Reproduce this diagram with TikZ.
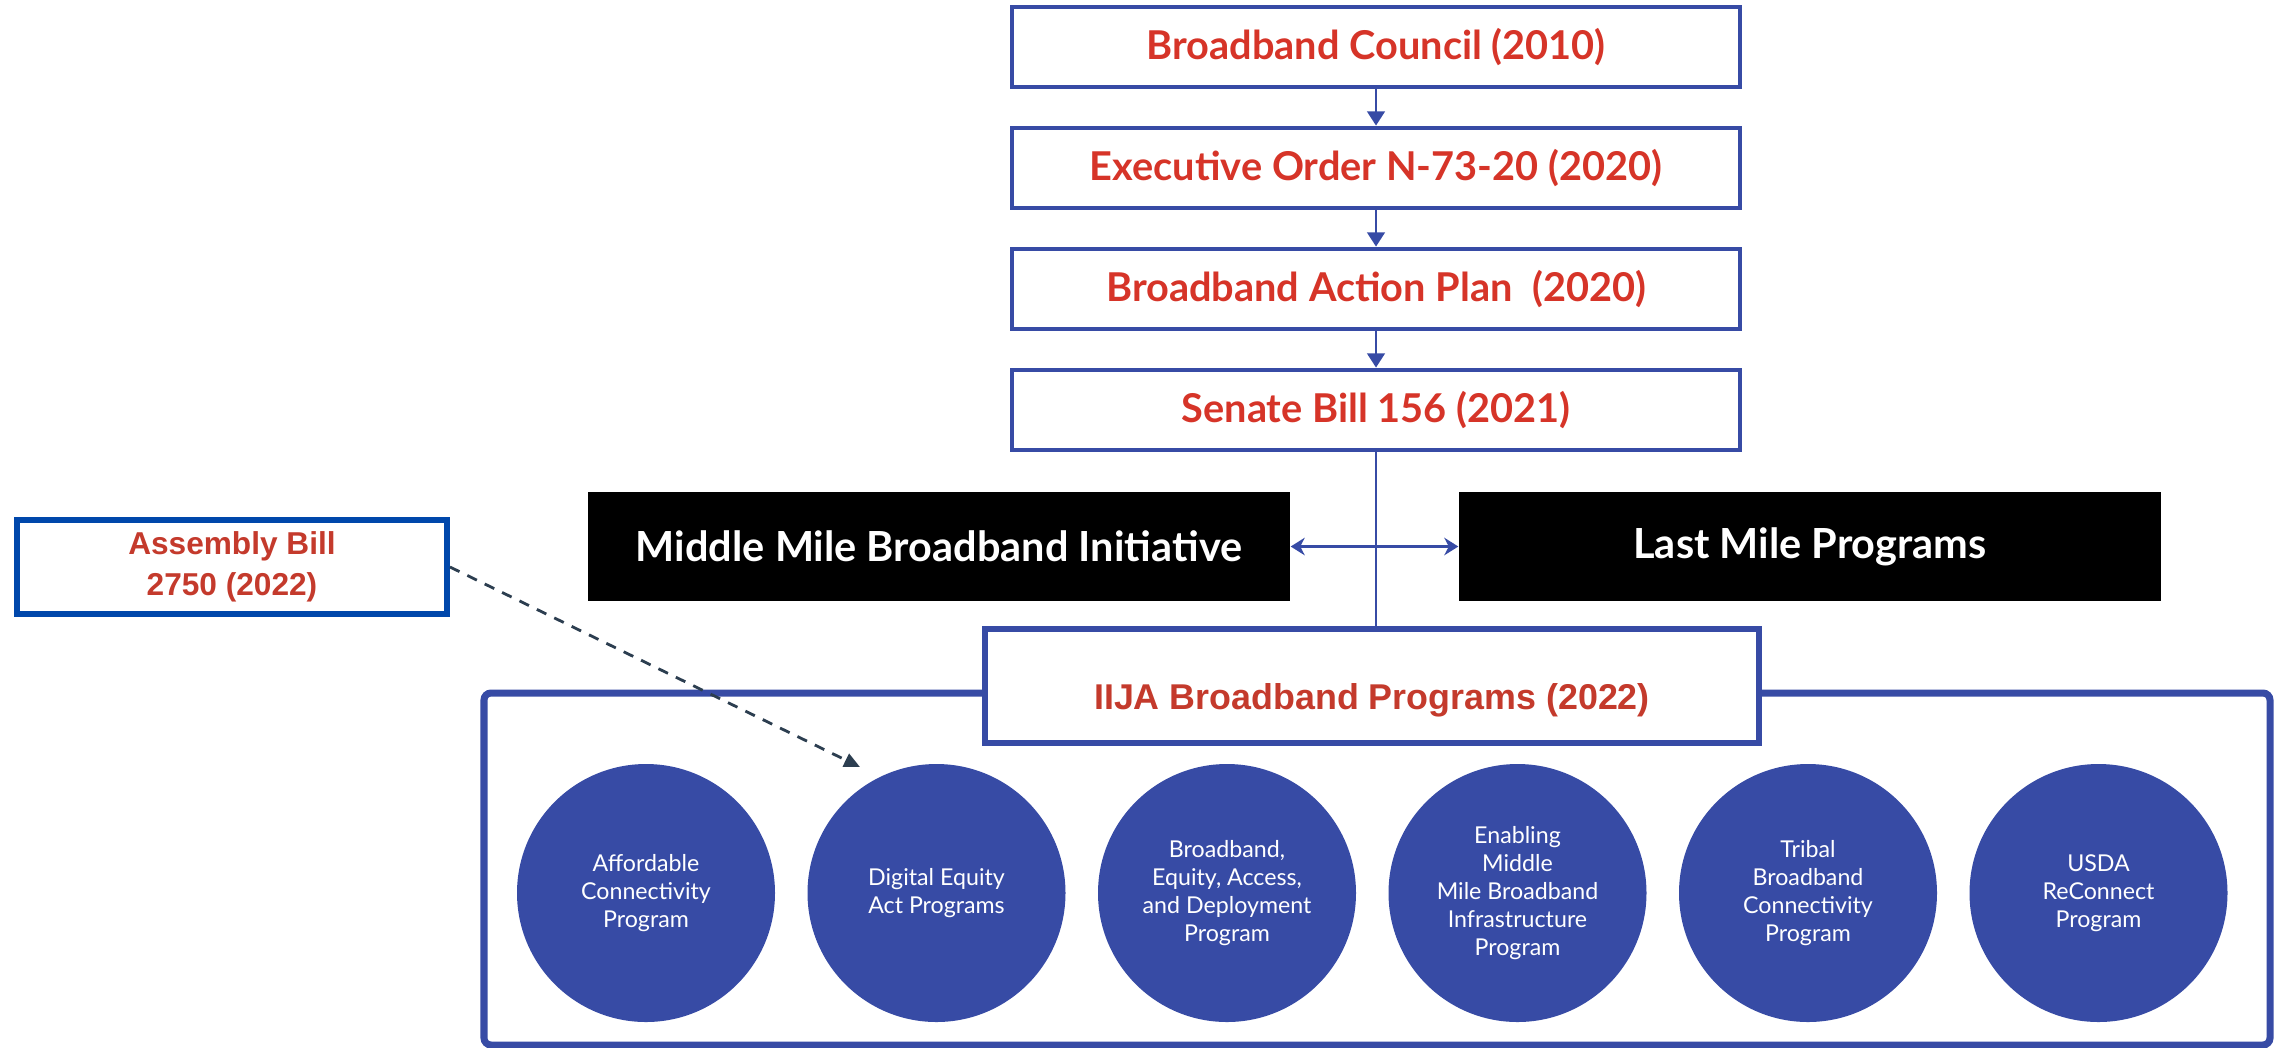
\documentclass[tikz,border=0pt]{standalone}
\usepackage{fontspec}
\setmainfont{Lato}
\newfontfamily\arialfont{Liberation Sans}
\usetikzlibrary{positioning}
\usetikzlibrary{arrows.meta,shapes}
\usetikzlibrary{calc}
\definecolor{bbblue}{RGB}{55,75,165}
\definecolor{bbred}{RGB}{214,52,40}
\definecolor{abred}{RGB}{196,58,44}
\definecolor{abblue}{RGB}{0,71,171}
\definecolor{slate}{RGB}{44,62,80}

\begin{document}
\begin{tikzpicture}[scale=1, auto, swap,
  stepbox/.style={draw=bbblue, line width=1.4pt, fill=white, minimum width=7.28cm, minimum height=0.8cm, inner sep=0pt, text=bbred, font=\bfseries\fontsize{11.3}{13}\selectfont},
  blackbox/.style={fill=black, minimum width=7.02cm, minimum height=1.09cm, inner sep=0pt, text=white, font=\bfseries\fontsize{11.8}{13}\selectfont},
  prog/.style={circle, fill=bbblue, minimum size=2.58cm, inner sep=0pt, text=white, align=center, font=\fontsize{6.6}{8}\selectfont},
  flow/.style={bbblue, line width=0.6pt, -{Triangle[width=5pt,length=4pt]}},
 ]
 \useasboundingbox (0,0) rectangle (22.77,-10.47);

 %level 1
 \foreach \i/\name in {1/Broadband Council (2010), 2/Executive Order N-73-20 (2020), 3/Broadband Action Plan~~(2020), 4/Senate Bill 156 (2021)} {
         \node[stepbox] (s\i) at (13.76, {-0.47-1.21*(\i-1)}) {\name};
 }
 \foreach \i/\j in {1/2, 2/3, 3/4} {
         \draw[flow] (s\i) -- (s\j);
 }

 %level 2
 \node[blackbox] (mm) at (9.39,-5.465) {Middle Mile Broadband Initiative};
 \node[blackbox] (lm) at (18.10,-5.465) {Last Mile Programs};

 %IIJA frame
 \draw[bbblue, line width=2pt, rounded corners=2pt] (4.84,-6.93) rectangle (22.70,-10.45);
 \node[draw=bbblue, line width=1.6pt, fill=white, minimum width=7.74cm, minimum height=1.14cm, text=abred, font=\arialfont\bfseries\fontsize{10.2}{12}\selectfont] (iija) at (13.72,-6.86) {\raisebox{-0.14cm}[\height][\depth]{IIJA Broadband Programs (2022)}};

 \draw[bbblue, line width=0.6pt] (s4.south) -- (s4.south |- iija.north);
 \draw[bbblue, line width=0.6pt, {Stealth[width=5pt,length=4pt]}-{Stealth[width=5pt,length=4pt]}] (mm) -- (lm);

 %programs
 \foreach \i/\name in {1/{Affordable\\Connectivity\\Program}, 2/{Digital Equity\\Act Programs}, 3/{Broadband,\\Equity, Access,\\and Deployment\\Program}, 4/{Enabling\\Middle\\Mile Broadband\\Infrastructure\\Program}, 5/{Tribal\\Broadband\\Connectivity\\Program}, 6/{USDA\\ReConnect\\Program}} {
         \node[prog] (p\i) at ({6.46+2.905*(\i-1)}, -8.93) {\name};
 }

 %assembly bill
 \node[draw=abblue, line width=1.7pt, minimum width=4.30cm, minimum height=0.88cm, text=abred, align=center, font=\arialfont\bfseries\fontsize{9}{11.6}\selectfont] (ab) at (2.32,-5.67) {Assembly Bill\\2750 (2022)};
 \coordinate (abend) at (8.60,-7.67);
 \draw[slate, line width=0.8pt, dash pattern=on 3pt off 2.5pt, -{Triangle[width=4pt,length=4.5pt]}] (ab.east) -- (abend);

\end{tikzpicture}
\end{document}
